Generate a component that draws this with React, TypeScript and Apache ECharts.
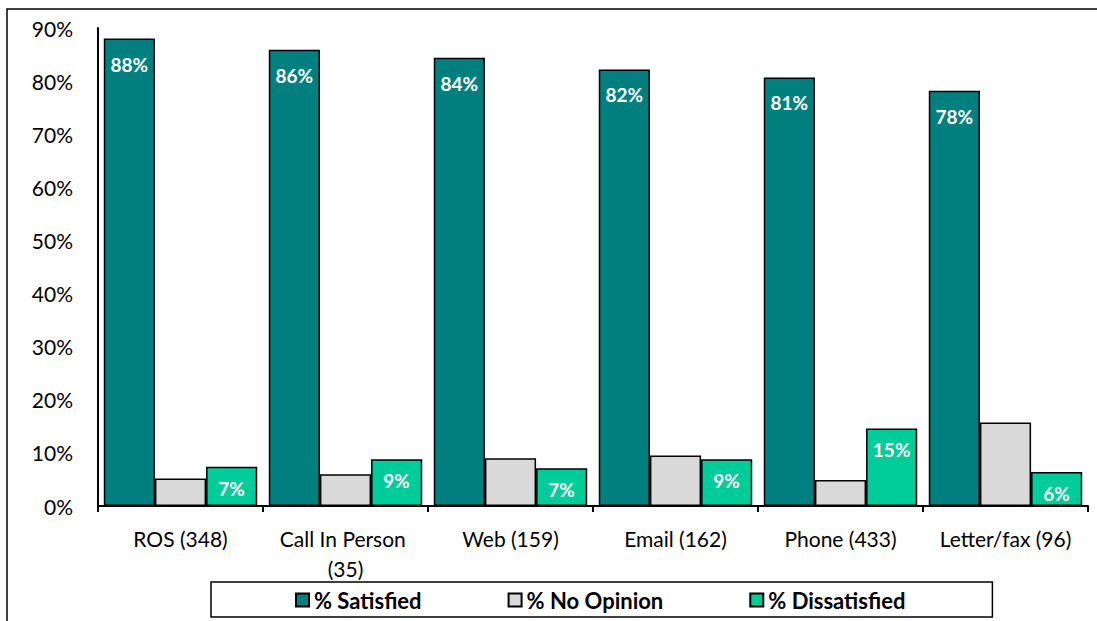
import React, { useEffect, useRef } from "react";
import * as echarts from "echarts";

const categories = [
  "ROS (348)",
  "Call In Person (35)",
  "Web (159)",
  "Email (162)",
  "Phone (433)",
  "Letter/fax (96)",
];
const satisfied = [88.0, 85.9, 84.4, 82.2, 80.7, 78.2];
const noOpinion = [5.2, 6.0, 9.0, 9.5, 4.9, 15.7];
const dissatisfied = [7.4, 8.8, 7.1, 8.8, 14.6, 6.4];
const seriesNames = ["% Satisfied", "% No Opinion", "% Dissatisfied"];
const yTicks = { min: 0, max: 90, interval: 10 };

const FONT = "Lato, 'Noto Sans', sans-serif";

export default function App() {
  const ref = useRef<HTMLDivElement>(null);
  useEffect(() => {
    if (!ref.current) return;
    const chart = echarts.init(ref.current, null, { renderer: "svg" });
    const fmt = (p: any) => Math.round(p.value) + "%";
    const lbl = (distance: number) => ({
      show: true,
      position: "insideTop",
      distance,
      formatter: fmt,
      color: "#ffffff",
      fontWeight: "bold",
      fontSize: 19,
      fontFamily: FONT,
    });
    chart.setOption({
      animation: false,
      textStyle: { fontFamily: FONT },
      graphic: [
        {
          type: "rect",
          silent: true,
          shape: { x: 7, y: 9, width: 1200, height: 700 },
          style: { fill: "none", stroke: "#000", lineWidth: 1.5 },
        },
      ],
      grid: { left: 98, right: 9, top: 28, bottom: 115, containLabel: false },
      legend: {
        left: 211,
        top: 582,
        padding: [7, 87, 6, 84],
        borderColor: "#000",
        borderWidth: 1.5,
        itemGap: 86,
        itemWidth: 13,
        itemHeight: 13,
        icon: "rect",
        textStyle: { fontFamily: FONT, fontWeight: "bold", fontSize: 22, color: "#000" },
        data: seriesNames,
      },
      xAxis: {
        type: "category",
        data: categories,
        axisLine: { lineStyle: { color: "#000", width: 2 } },
        axisTick: { show: true, length: 6, lineStyle: { color: "#000", width: 2 } },
        axisLabel: {
          color: "#000",
          fontSize: 21,
          fontFamily: FONT,
          margin: 17,
          lineHeight: 30,
          width: 155,
          overflow: "break",
          interval: 0,
        },
      },
      yAxis: {
        type: "value",
        min: yTicks.min,
        max: yTicks.max,
        interval: yTicks.interval,
        splitLine: { show: false },
        axisLine: { show: true, lineStyle: { color: "#000", width: 2 } },
        axisTick: { show: false },
        axisLabel: {
          color: "#000",
          fontSize: 21,
          fontFamily: FONT,
          margin: 25,
          formatter: "{value}%",
        },
      },
      series: [
        {
          name: seriesNames[0],
          type: "bar",
          data: satisfied,
          barGap: "0%",
          barCategoryGap: "7%",
          itemStyle: { color: "#007F7F", borderColor: "#000", borderWidth: 1.5 },
          label: lbl(16),
        },
        {
          name: seriesNames[1],
          type: "bar",
          data: noOpinion,
          barGap: "0%",
          barCategoryGap: "7%",
          itemStyle: { color: "#D9D9D9", borderColor: "#000", borderWidth: 1.5 },
        },
        {
          name: seriesNames[2],
          type: "bar",
          data: dissatisfied,
          barGap: "0%",
          barCategoryGap: "7%",
          itemStyle: { color: "#00CC99", borderColor: "#000", borderWidth: 1.5 },
          label: lbl(12),
        },
      ],
    });
    return () => chart.dispose();
  }, []);
  return (
    <div
      ref={ref}
      style={{ position: "absolute", left: 0, top: 0, width: 1097, height: 621, background: "#fff" }}
    />
  );
}
